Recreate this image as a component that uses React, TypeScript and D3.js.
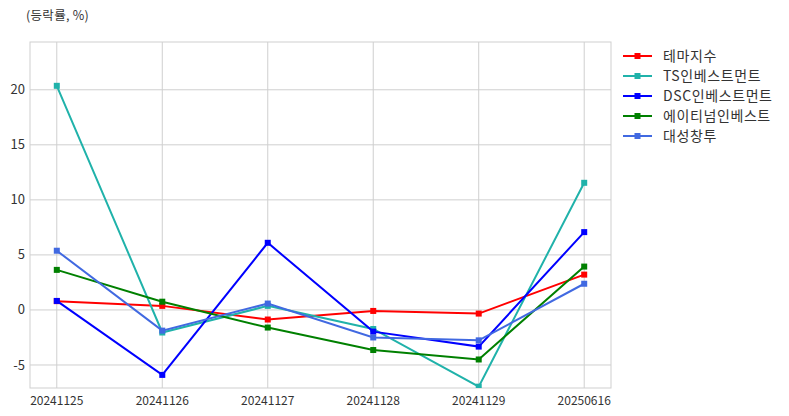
import React from "react";
import * as d3 from "d3";

const categories = ["20241125", "20241126", "20241127", "20241128", "20241129", "20250616"];
const seriesNames = ["테마지수", "TS인베스트먼트", "DSC인베스트먼트", "에이티넘인베스트", "대성창투"];
const seriesColors = ["#ff0000", "#20b2aa", "#0000ff", "#008000", "#4169e1"];
const themeIndex = [0.8, 0.37, -0.87, -0.09, -0.33, 3.21];
const tsInvest = [20.36, -2.05, 0.37, -1.73, -6.97, 11.55];
const dscInvest = [0.82, -5.9, 6.1, -1.97, -3.33, 7.07];
const atinumInvest = [3.64, 0.75, -1.6, -3.64, -4.5, 3.94];
const daesungInvest = [5.38, -1.88, 0.58, -2.5, -2.76, 2.38];
const yTicks = [-5, 0, 5, 10, 15, 20];
const title = "(등락률, %)";

const allSeries = [themeIndex, tsInvest, dscInvest, atinumInvest, daesungInvest];

const W = 789;
const H = 416;
const left = 30;
const right = 611;
const top = 42;
const bottom = 388;
const font = "'Noto Sans CJK KR', 'Noto Sans', sans-serif";

export default function App() {
  const x = d3.scalePoint<string>().domain(categories).range([left, right]).padding(0.254);
  const y = d3.scaleLinear().domain([-7.09, 24.34]).range([bottom, top]);
  const line = d3
    .line<number>()
    .x((_, i) => x(categories[i]) as number)
    .y((d) => y(d));

  return (
    <svg width={W} height={H} style={{ position: "absolute", left: 0, top: 0, fontFamily: font }}>
      <defs>
        <clipPath id="plotClip">
          <rect x={left} y={top} width={right - left} height={bottom - top} />
        </clipPath>
      </defs>
      <rect x={0} y={0} width={W} height={H} fill="#fff" />
      <text x={26} y={20} fontSize={12.5} fill="#333" letterSpacing={0.3}>{title}</text>
      {/* grid */}
      {yTicks.map((t) => (
        <line key={"gy" + t} x1={left} x2={right} y1={y(t)} y2={y(t)} stroke="#cfcfcf" strokeWidth={1} />
      ))}
      {categories.map((c) => (
        <line key={"gx" + c} x1={x(c)} x2={x(c)} y1={top} y2={bottom} stroke="#cfcfcf" strokeWidth={1} />
      ))}
      <rect x={left} y={top} width={right - left} height={bottom - top} fill="none" stroke="#cfcfcf" strokeWidth={1} />
      {/* tick labels */}
      {yTicks.map((t) => (
        <text key={"ty" + t} x={25} y={y(t)} dy="0.35em" textAnchor="end" fontSize={13} fill="#333">
          {t}
        </text>
      ))}
      {categories.map((c) => (
        <text key={"tx" + c} x={x(c)} y={405} textAnchor="middle" fontSize={12} fill="#333">
          {c}
        </text>
      ))}
      {/* series */}
      <g clipPath="url(#plotClip)">
        {allSeries.map((s, si) => (
          <g key={"s" + si}>
            <path d={line(s) || ""} fill="none" stroke={seriesColors[si]} strokeWidth={2} />
            {s.map((v, i) => (
              <rect
                key={i}
                x={(x(categories[i]) as number) - 3}
                y={y(v) - 3}
                width={6}
                height={6}
                fill={seriesColors[si]}
              />
            ))}
          </g>
        ))}
      </g>
      {/* legend */}
      {seriesNames.map((n, i) => {
        const ly = 56 + i * 20;
        return (
          <g key={"l" + n}>
            <line x1={623} x2={652} y1={ly} y2={ly} stroke={seriesColors[i]} strokeWidth={2} />
            <rect x={634.5} y={ly - 3} width={6} height={6} fill={seriesColors[i]} />
            <text x={663} y={ly} dy="0.35em" fontSize={14} letterSpacing={0.6} fill="#333">{n}</text>
          </g>
        );
      })}
    </svg>
  );
}
